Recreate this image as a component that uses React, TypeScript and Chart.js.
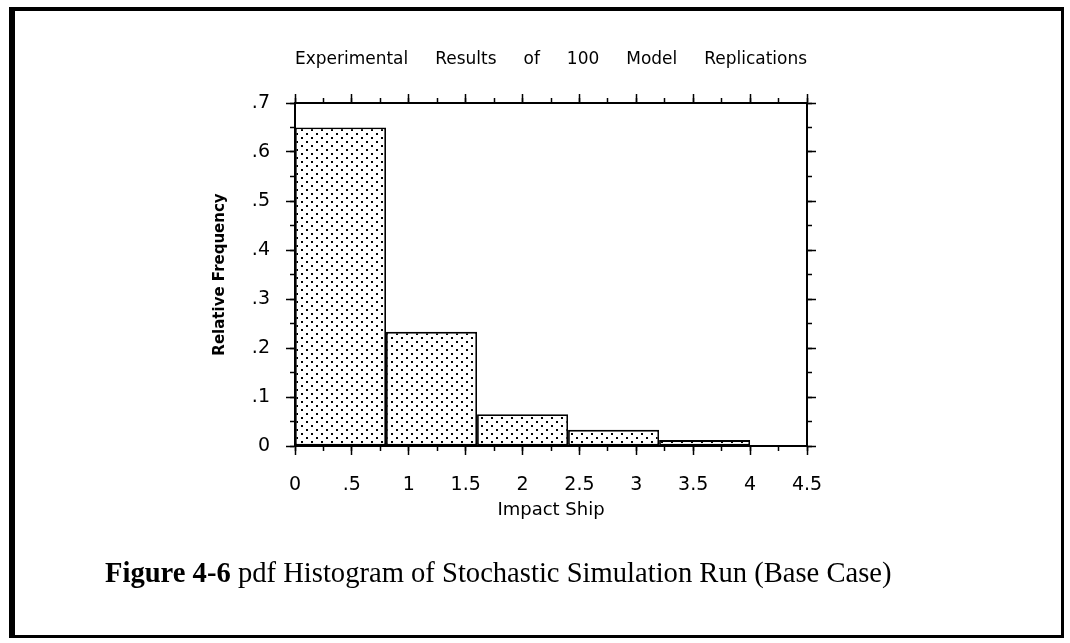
import React, { useEffect, useRef } from "react";
import { Chart, registerables } from "chart.js";

Chart.register(...registerables);

// ---- data ----
const binCenters = [0.4, 1.2, 2.0, 2.8, 3.6];
const binWidth = 0.8;
const relativeFrequency = [0.65, 0.233, 0.065, 0.033, 0.012];

const xMinValue = 0;
const xMaxValue = 4.5;
const yMinValue = 0;
const yMaxValue = 0.7;
const xMajorStep = 0.5;
const xMinorStep = 0.25;
const yMajorStep = 0.1;
const yMinorStep = 0.05;

const chartTitle = "Experimental     Results     of     100     Model     Replications";
const xAxisTitle = "Impact Ship";
const yAxisTitle = "Relative Frequency";
const captionBold = "Figure 4-6";
const captionRest = " pdf Histogram of Stochastic Simulation Run (Base Case)";

const SANS = "'DejaVu Sans', Verdana, sans-serif";

function fmtTick(v: number) {
  const r = Math.round(Number(v) * 100) / 100;
  if (r === 0) return "0";
  return String(r).replace(/^0\./, ".");
}

function makeDotPattern(ctx: CanvasRenderingContext2D) {
  const c = document.createElement("canvas");
  c.width = 10;
  c.height = 8;
  const g = c.getContext("2d")!;
  g.fillStyle = "#ffffff";
  g.fillRect(0, 0, 10, 8);
  g.fillStyle = "#000000";
  g.fillRect(1, 1, 2, 2);
  g.fillRect(6, 5, 2, 2);
  return ctx.createPattern(c, "repeat");
}

function edgeAxis(
  axis: "x" | "y",
  position: string,
  step: number,
  tickLen: number,
  weight: number,
  showBorder: boolean,
  size: number
): any {
  return {
    type: "linear",
    axis,
    position,
    min: axis === "x" ? xMinValue : yMinValue,
    max: axis === "x" ? xMaxValue : yMaxValue,
    weight,
    offset: false,
    ticks: { display: false, stepSize: step },
    grid: {
      display: true,
      drawOnChartArea: false,
      drawTicks: true,
      tickLength: tickLen,
      tickWidth: 1.5,
      tickColor: "#000",
      offset: false,
    },
    border: { display: showBorder, color: "#000", width: 2 },
    afterFit: (s: any) => {
      if (axis === "x") s.height = size;
      else s.width = size;
      s.paddingLeft = 0;
      s.paddingRight = 0;
      s.paddingTop = 0;
      s.paddingBottom = 0;
    },
  };
}

export default function App() {
  const ref = useRef<HTMLCanvasElement>(null);

  useEffect(() => {
    const canvas = ref.current!;
    const ctx = canvas.getContext("2d")!;
    const pattern = makeDotPattern(ctx);

    const xMain = edgeAxis("x", "bottom", xMajorStep, 9, 1, true, 90);
    xMain.ticks = {
      display: true,
      stepSize: xMajorStep,
      autoSkip: false,
      maxRotation: 0,
      padding: 18.6,
      color: "#000",
      font: { family: SANS, size: 19 },
      callback: (v: any) => fmtTick(v),
    };
    xMain.title = {
      display: true,
      text: xAxisTitle,
      color: "#000",
      font: { family: SANS, size: 18 },
      padding: { top: 0, bottom: 15.2 },
    };

    const yMain = edgeAxis("y", "left", yMajorStep, 9, 1, true, 295);
    yMain.ticks = {
      display: true,
      stepSize: yMajorStep,
      autoSkip: false,
      padding: 16,
      color: "#000",
      font: { family: SANS, size: 19 },
      callback: (v: any) => fmtTick(v),
    };
    yMain.title = {
      display: true,
      text: yAxisTitle,
      color: "#000",
      font: { family: SANS, size: 15, weight: "bold" },
      padding: { top: 211, bottom: 0 },
    };

    const chart = new Chart(canvas, {
      type: "bar",
      data: {
        datasets: [
          {
            data: binCenters.map((c, i) => ({ x: c, y: relativeFrequency[i] })),
            backgroundColor: pattern as any,
            borderColor: "#000",
            borderWidth: 1.8,
            borderSkipped: false,
            barPercentage: binWidth / xMajorStep,
            categoryPercentage: 1,
            xAxisID: "x",
            yAxisID: "y",
          } as any,
        ],
      },
      options: {
        responsive: false,
        animation: false,
        layout: { padding: { left: 0, top: 0, right: 254, bottom: 107 } },
        plugins: {
          legend: { display: false },
          tooltip: { enabled: false },
          title: {
            display: true,
            text: chartTitle,
            color: "#000",
            fullSize: false,
            font: { family: SANS, size: 18, weight: "normal" },
            padding: { top: 49, bottom: 23.4 },
          },
        },
        scales: {
          x: xMain,
          xMinor: edgeAxis("x", "bottom", xMinorStep, 5, 0, false, 0),
          x2: edgeAxis("x", "top", xMajorStep, 9, 1, true, 9),
          x2Minor: edgeAxis("x", "top", xMinorStep, 5, 0, false, 0),
          y: yMain,
          yMinor: edgeAxis("y", "left", yMinorStep, 5, 0, false, 0),
          y2: edgeAxis("y", "right", yMajorStep, 9, 1, true, 9),
          y2Minor: edgeAxis("y", "right", yMinorStep, 5, 0, false, 0),
        } as any,
      },
    });
    return () => chart.destroy();
  }, []);

  return (
    <div
      style={{
        position: "absolute",
        left: 0,
        top: 0,
        width: 1070,
        height: 643,
        background: "#fff",
        overflow: "hidden",
      }}
    >
      <div
        style={{
          position: "absolute",
          left: 9,
          top: 7,
          width: 1055,
          height: 631,
          boxSizing: "border-box",
          borderLeft: "6px solid #000",
          borderTop: "4px solid #000",
          borderRight: "3px solid #000",
          borderBottom: "3px solid #000",
        }}
      />
      <canvas
        ref={ref}
        width={1070}
        height={643}
        style={{ position: "absolute", left: 0, top: 0, width: 1070, height: 643 }}
      />
      <div
        style={{
          position: "absolute",
          left: 105,
          top: 559,
          fontFamily: "'Liberation Serif', 'Times New Roman', serif",
          fontSize: 28.6,
          lineHeight: 1,
          whiteSpace: "nowrap",
          color: "#000",
        }}
      >
        <b>{captionBold}</b>
        {captionRest}
      </div>
    </div>
  );
}
